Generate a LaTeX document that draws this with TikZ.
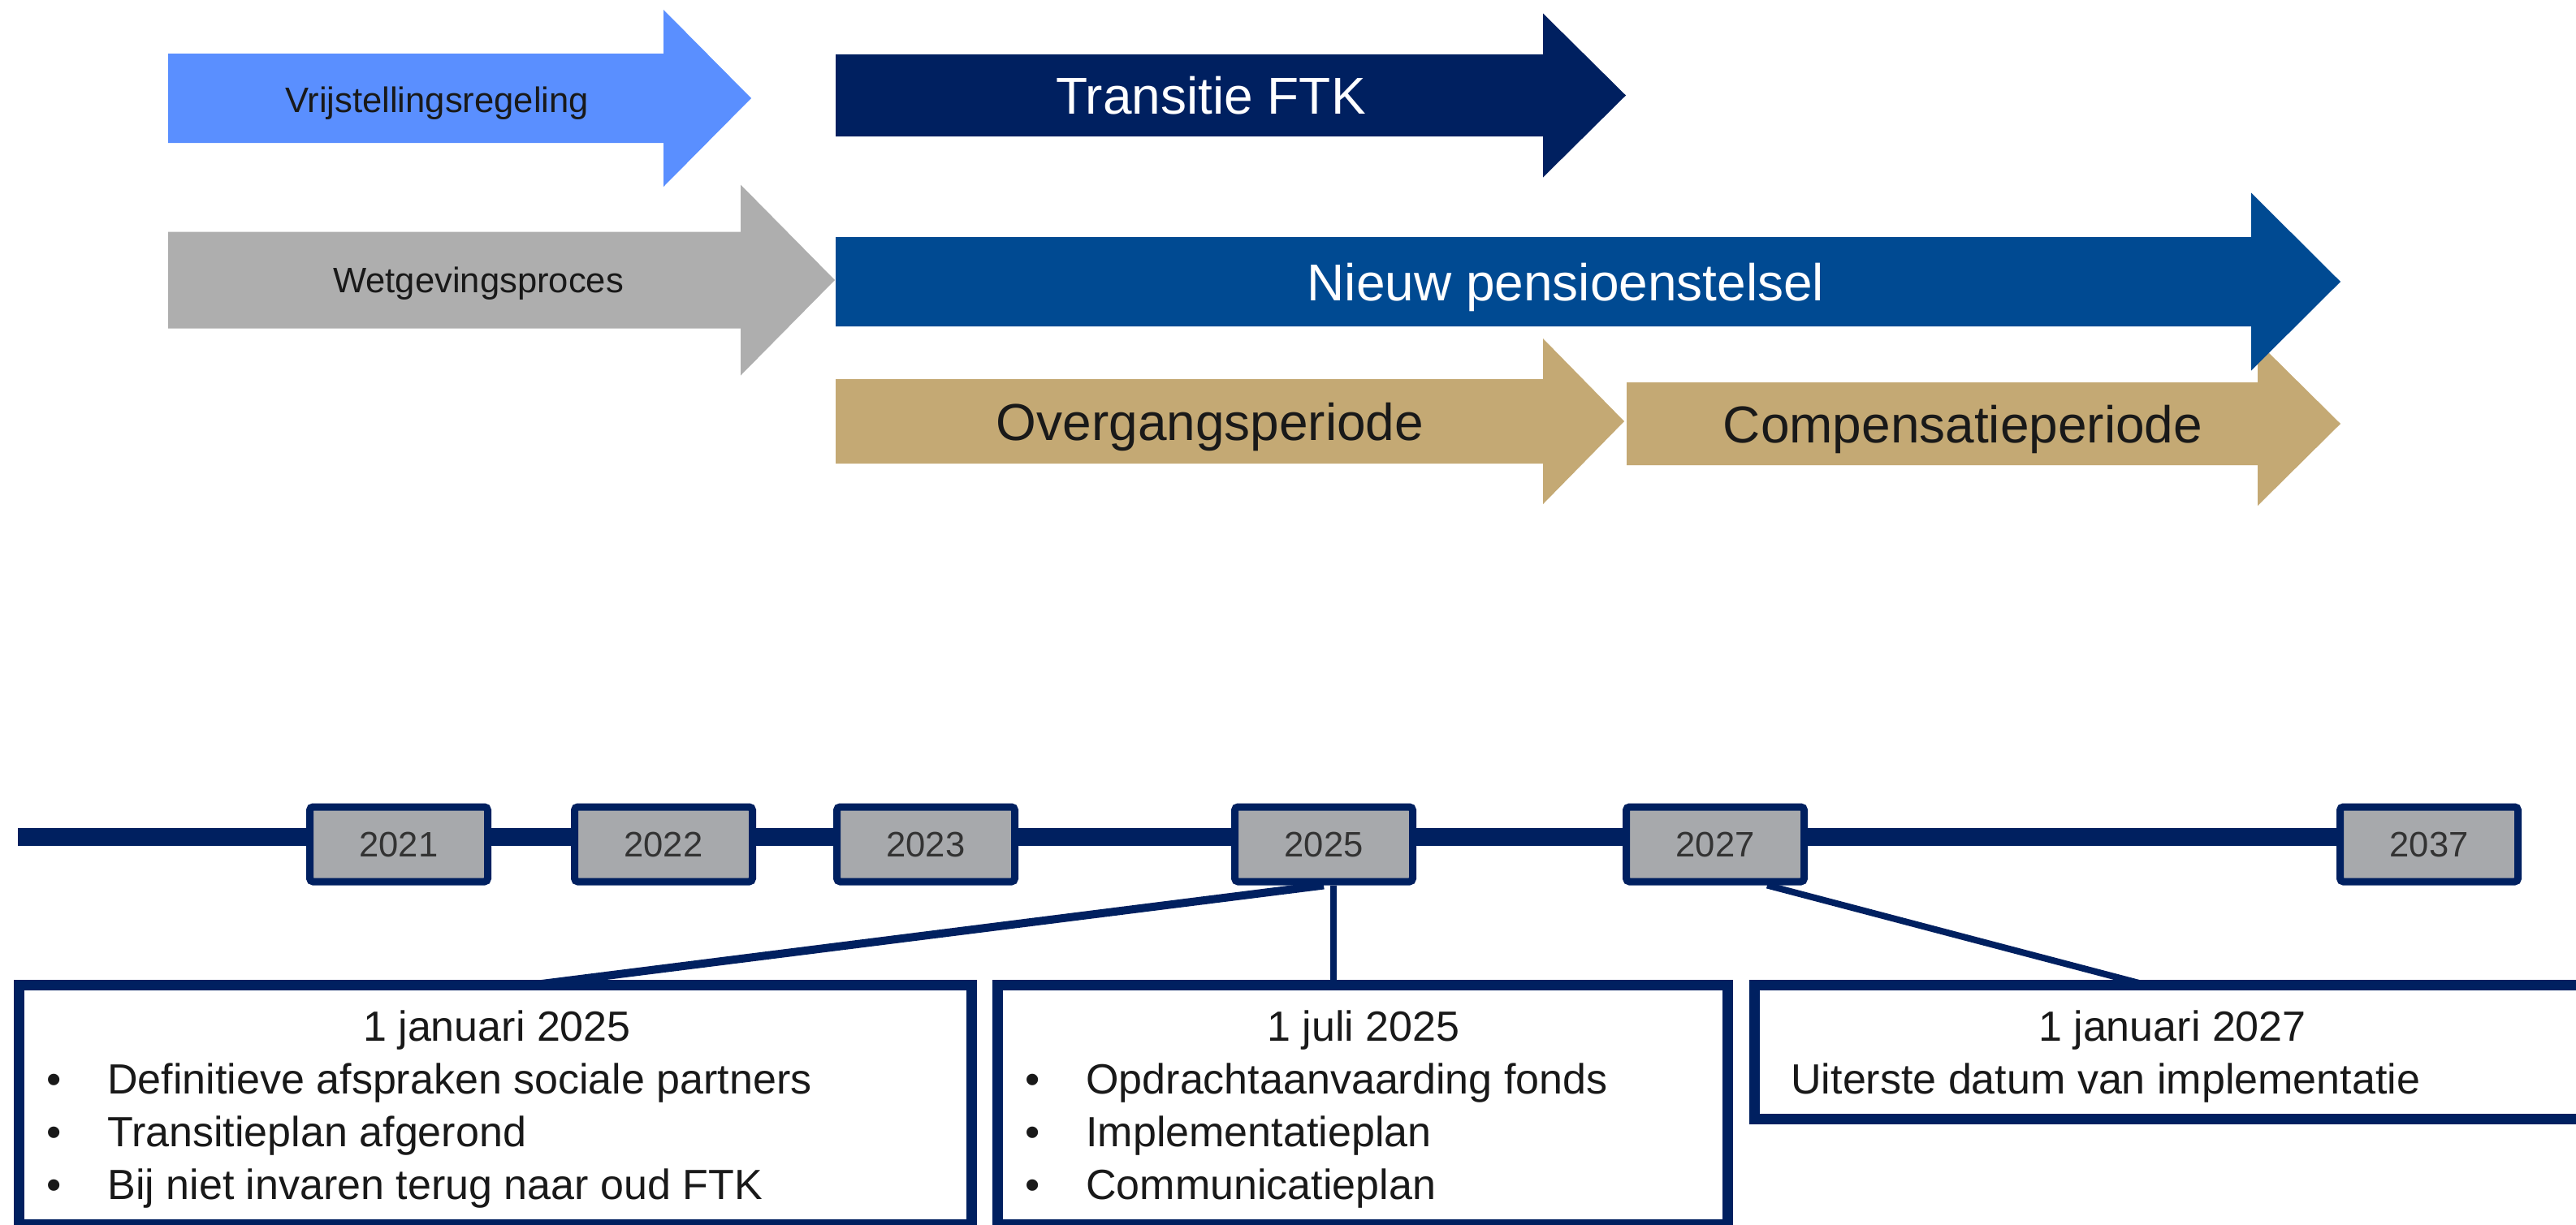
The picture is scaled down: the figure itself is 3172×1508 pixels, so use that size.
\documentclass[tikz,border=0pt]{standalone}
\usepackage{fontspec}
\setmainfont{Liberation Sans}
\usetikzlibrary{calc, backgrounds}
\definecolor{accentnavy}{RGB}{0,32,96}
\definecolor{lightphase}{RGB}{90,143,255}
\definecolor{greyphase}{RGB}{174,174,174}
\definecolor{midblue}{RGB}{0,74,146}
\definecolor{tanphase}{RGB}{196,169,116}
\definecolor{yearfill}{RGB}{167,169,172}
\definecolor{yeartext}{RGB}{51,51,51}

% block arrow: left, shaft end, tip, centre y, half body, half head, colour
\newcommand{\phasearrow}[7]{%
  \fill[#7] (#1,#4-#5) -- (#2,#4-#5) -- (#2,#4-#6) -- (#3,#4)
    -- (#2,#4+#6) -- (#2,#4+#5) -- (#1,#4+#5) -- cycle;}

\begin{document}
\begin{tikzpicture}[x=0.1mm, y=-0.1mm,
    phaselabel/.style={anchor=base, font=\fontsize{18.2}{20}\selectfont},
    smalllabel/.style={anchor=base, text=black!90, font=\fontsize{12.4}{14}\selectfont},
    yearbox/.style={draw=accentnavy, line width=0.9mm, fill=yearfill, rounded corners=0.4mm,
      minimum width=21.9mm, minimum height=9.2mm, inner sep=0pt, text=yeartext,
      font=\fontsize{12.4}{14}\selectfont},
    callout/.style={draw=accentnavy, line width=1.3mm, fill=white, inner sep=0pt, outer sep=0pt},
    datetitle/.style={anchor=base, text=black!90, font=\fontsize{14.8}{17}\selectfont},
    itemtext/.style={anchor=base west, text=black!90, font=\fontsize{14.8}{17}\selectfont},
    itembullet/.style={anchor=base, text=black!90, font=\fontsize{14.8}{17}\selectfont},
    link/.style={draw=accentnavy, line width=1mm}
  ]
    \useasboundingbox (0,0) rectangle (3172,1508);
    \clip (0,0) rectangle (3172,1508);

    % Phases
    \phasearrow{207}{817}{925}{121}{55}{109}{lightphase}
    \phasearrow{207}{912}{1028}{345}{59.5}{117.5}{greyphase}
    \phasearrow{1029}{1900}{2002}{117.5}{50.5}{101}{accentnavy}
    \phasearrow{1029}{1900}{2000}{519}{52}{102}{tanphase}
    \phasearrow{2003}{2780}{2882}{522}{51}{101}{tanphase}
    \phasearrow{1029}{2772}{2882}{347}{55}{109.5}{midblue}

    \node[smalllabel] (vrij) at (538,138) {Vrijstellingsregeling};
    \node[smalllabel] (wet) at (589,360) {Wetgevingsproces};
    \node[phaselabel, text=white] (ftk) at (1491,140) {Transitie FTK};
    \node[phaselabel, text=white] (nieuw) at (1928,370) {Nieuw pensioenstelsel};
    \node[phaselabel, text=black!90] (overgang) at (1490,542) {Overgangsperiode};
    \node[phaselabel, text=black!90] (compensatie) at (2417,545) {Compensatieperiode};

    % Timeline
    \coordinate (barstart) at (22,1031);
    \foreach \yr/\xc in {2021/491, 2022/817, 2023/1140, 2025/1630, 2027/2112, 2037/2991}
        \node[yearbox] (y\yr) at (\xc,1040) {\yr};

    % Milestones
    \node[callout, minimum width=117.3mm, minimum height=29.5mm] (box1) at (610,1361) {};
    \node[callout, minimum width=89.9mm, minimum height=29.5mm] (box2) at (1678,1361) {};
    \node[callout, minimum width=103mm, minimum height=16.5mm] (box3) at (2675.5,1296) {};

    \begin{pgfonlayer}{background}
        \draw[accentnavy, line width=2.2mm] (barstart) -- (barstart -| y2037.west);
        \draw[link] (y2025.south) -- ($(box1.north)+(45,0)$);
        \coordinate (drop) at ($(y2025.south)+(12,0)$);
        \draw[link, line width=0.8mm] (drop) -- (drop |- box2.north);
        \draw[link, line width=0.8mm] ($(y2027.south)+(64,0)$) -- ($(box3.north)+(-32,0)$);
    \end{pgfonlayer}

    \node[datetitle] (jan25) at (612,1282) {1 januari 2025};
    \foreach \txt [count=\i] in {Definitieve afspraken sociale partners, Transitieplan afgerond, Bij niet invaren terug naar oud FTK} {
        \node[itembullet] (b1\i) at (67,1282+65*\i) {\textbullet};
        \node[itemtext] (t1\i) at (120,1282+65*\i) {\txt};
    }

    \node[datetitle] (jul25) at (1679,1282) {1 juli 2025};
    \foreach \txt [count=\i] in {Opdrachtaanvaarding fonds, Implementatieplan, Communicatieplan} {
        \node[itembullet] (b2\i) at (1272,1282+65*\i) {\textbullet};
        \node[itemtext] (t2\i) at (1325,1282+65*\i) {\txt};
    }

    \node[datetitle] (jan27) at (2675,1282) {1 januari 2027};
    \node[itemtext] (t31) at (2193,1347) {Uiterste datum van implementatie};
\end{tikzpicture}
\end{document}
